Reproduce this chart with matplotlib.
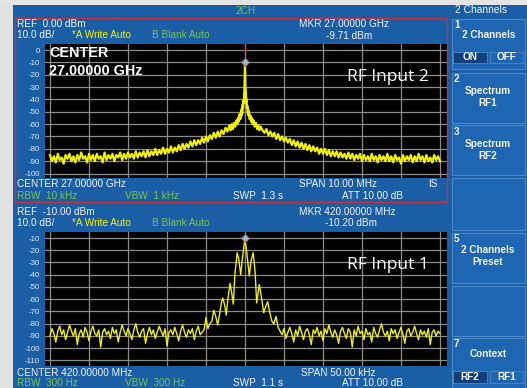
import numpy as np
import matplotlib
matplotlib.use("Agg")
import matplotlib.pyplot as plt
from matplotlib.patches import Rectangle

plt.rcParams['font.family'] = ['Liberation Sans', 'DejaVu Sans']

# ---------------- data ----------------
# RF Input 2 : center 27 GHz, span 10 MHz (offsets in MHz)
top_left_lvl = [-85,-90,-86,-91,-84,-89,-87,-92,-85,-88,-84,-90,-86,-91,-85,-89,-83,-88,-86,-91,
                -84,-89,-85,-90,-84,-88,-86,-91,-83,-89,-85,-88,-84,-90,-85,-87,-83,-89,-84,-88,
                -83,-87,-84,-88,-82,-87,-83,-86,-82,-87,-81,-86,-82,-85,-80,-85,-81,-84,-79,-84,
                -80,-83,-78,-83,-79,-82,-77,-81,-76,-80,-76,-79,-74,-78,-73,-77,-73,-76,-71,-75,
                -70,-74,-69,-72,-67,-71,-66,-70,-65,-68,-63,-66]
top_peak_f = [-0.40,-0.37,-0.34,-0.31,-0.28,-0.25,-0.22,-0.20,-0.18,-0.16,-0.14,-0.12,-0.10,-0.09,
              -0.08,-0.07,-0.06,-0.05,-0.04,-0.03,-0.025,-0.02,-0.015,-0.01,-0.005,0.0,
              0.005,0.01,0.015,0.02,0.025,0.03,0.04,0.05,0.06,0.07,0.08,0.09,0.10,0.12,0.14,
              0.16,0.18,0.20,0.22,0.25,0.28,0.31,0.34,0.37,0.40]
top_peak_lvl = [-61,-65,-60,-64,-59,-62,-57,-60,-55,-58,-52,-56,-49,-53,-47,-51,-44,-47,-41,-43,
                -36,-38,-31,-27,-18,-9.71,
                -19,-28,-30,-37,-35,-42,-40,-47,-45,-51,-48,-53,-50,-56,-53,-58,-55,-60,-57,-62,
                -59,-64,-61,-65,-62]
top_right_lvl = [-65,-67,-64,-69,-66,-70,-67,-72,-68,-73,-70,-74,-71,-75,-72,-77,-73,-78,-74,-79,
                 -75,-80,-76,-81,-77,-82,-78,-82,-79,-84,-80,-84,-80,-85,-81,-86,-82,-86,-82,-87,
                 -83,-87,-84,-88,-83,-88,-84,-89,-85,-88,-84,-90,-85,-89,-86,-90,-84,-89,-86,-91,
                 -85,-89,-86,-90,-84,-90,-86,-91,-85,-89,-87,-92,-85,-90,-86,-89,-85,-91,-86,-90,
                 -84,-89,-86,-91,-85,-90,-87,-91,-85,-89,-86,-90]

# RF Input 1 : center 420 MHz, span 50 kHz (offsets in kHz)
bot_left_lvl = [-90,-84,-88,-95,-86,-82,-89,-85,-93,-87,-81,-86,-90,-84,-97,-88,-85,-91,-83,-87,
                -94,-86,-82,-88,-90,-85,-99,-87,-84,-89,-86,-92,-83,-88,-85,-95,-87,-81,-86,-90,
                -84,-88,-93,-85,-80,-87,-91,-86,-84,-96,-88,-83,-89,-85,-92,-87,-82,-86,-90,-84,
                -98,-87,-85,-89,-83,-88,-94,-86,-81,-87,-91,-85,-88,-84,-93,-86,-82,-89,-87,-85]
bot_main_f = [-5.0,-4.75,-4.5,-4.25,-4.0,-3.75,-3.5,-3.25,-3.0,-2.85,-2.6,-2.4,-2.2,-1.92,-1.7,
              -1.5,-1.3,-1.0,-0.8,-0.55,-0.3,0.0,0.3,0.55,0.8,1.05,1.3,1.5,1.65,1.83,2.05,2.4,
              2.65,2.91,3.15,3.45,3.7,3.97,4.25]
bot_main_lvl = [-75,-84,-80,-78,-69,-74,-81,-72,-62,-59,-65,-73,-60,-47,-55,-64,-40,-22,-27,-40,
                -25,-10.2,-26,-41,-28,-22,-38,-63,-56,-48,-56,-71,-66,-62,-70,-78,-80,-74,-83]
bot_right_lvl = [-86,-89,-84,-92,-87,-83,-88,-95,-85,-90,-82,-87,-93,-86,-84,-89,-97,-85,-88,-83,
                 -90,-86,-94,-84,-88,-81,-87,-91,-85,-89,-96,-86,-83,-88,-92,-84,-87,-99,-85,-90,
                 -82,-88,-86,-93,-84,-89,-87,-95,-83,-88,-91,-85,-80,-87,-90,-86,-94,-84,-88,-85,
                 -92,-87,-83,-89,-96,-86,-84,-90,-87,-82,-88,-93,-85,-89,-86,-91,-84,-97,-87,-85,
                 -90,-86,-88]

top_yticks = [0, -10, -20, -30, -40, -50, -60, -70, -80, -90, -100]
bot_yticks = [-10, -20, -30, -40, -50, -60, -70, -80, -90, -100, -110]
top_marker = (0.0, -9.71)
bot_marker = (0.0, -10.20)

# ---------------- style ----------------
W, H = 527, 388
BLUE = '#1a5ea6'
BOXF = '#1f66b2'
BOXE = '#4a88c8'
DARKB = '#123f7a'
YEL = '#f4f400'
GRN = '#7cc452'
WHT = '#f2f4f8'
RED = '#c8323c'
GRID = '#8c8c8c'
TRACE = '#f0f000'

fig = plt.figure(figsize=(W / 100, H / 100), dpi=100)
fig.patch.set_facecolor(BLUE)


def rect(x, y, w, h, **kw):
    r = Rectangle((x / W, 1 - (y + h) / H), w / W, h / H, transform=fig.transFigure, **kw)
    fig.add_artist(r)
    return r


def txt(x, y, s, color=WHT, size=7.2, ha='left', weight='normal', **kw):
    fig.text(x / W, 1 - y / H, s, color=color, fontsize=size, ha=ha, va='center',
             fontweight=weight, **kw)


# outside margins (photo background)
rect(0, 0, 13, H, facecolor='#e2e2e2', edgecolor='none', zorder=0)
rect(0, 0, W, 5, facecolor='#e4e4e4', edgecolor='none', zorder=0)

# 2CH title
txt(245, 11, '2CH', color=GRN, size=7.2, ha='center')
# red active-channel frame
rect(14.5, 17.5, 432, 184, facecolor='none', edgecolor=RED, linewidth=1.0, zorder=3)


def make_axes(y0, yticks, ylim, xlim, xgrid):
    ax = fig.add_axes([45 / W, 1 - (y0 + 134) / H, 402 / W, 134 / H])
    ax.set_facecolor('black')
    ax.set_xlim(*xlim)
    ax.set_ylim(*ylim)
    ax.set_xticks(xgrid)
    ax.set_yticks(yticks)
    ax.set_yticklabels([str(v) for v in yticks])
    ax.tick_params(axis='x', length=0, labelbottom=False)
    ax.tick_params(axis='y', length=0, pad=3.6, labelsize=5.6, labelcolor='#e6ecf4')
    ax.grid(True, color=GRID, linewidth=0.9)
    ax.set_axisbelow(True)
    for s in ax.spines.values():
        s.set_visible(False)
    return ax


# ---- top channel (RF Input 2) ----
ax1 = make_axes(44, top_yticks, (-103.6, 4.86), (-5.128, 5.179), np.arange(-5, 6, 1))
tf = np.concatenate([np.linspace(-5.0, -0.45, len(top_left_lvl)), top_peak_f,
                     np.linspace(0.45, 5.0, len(top_right_lvl))])
tl = np.concatenate([top_left_lvl, top_peak_lvl, top_right_lvl])
ax1.plot(tf, tl, color=TRACE, linewidth=1.6, zorder=3)
ax1.plot(*top_marker, marker='D', ms=4.5, mfc='#78c8e0', mec='#d8505a', mew=0.8, zorder=4)
ax1.text(0, 1.6, '1', color='#e03030', fontsize=6.5, ha='center', va='center', zorder=4)
ax1.text(0.01, 0.93, 'CENTER', transform=ax1.transAxes, color='white', fontsize=10.4,
         fontweight='bold', ha='left', va='center')
ax1.text(0.01, 0.80, '27.00000 GHz', transform=ax1.transAxes, color='white', fontsize=10.4,
         fontweight='bold', ha='left', va='center')
ax1.text(0.955, 0.755, 'RF Input 2', transform=ax1.transAxes, color='white', fontsize=12.5,
         ha='right', va='center', family=['Open Sans', 'DejaVu Sans'])

txt(17, 24, 'REF  0.00 dBm')
txt(17, 35, '10.0 dB/')
txt(72, 35, '*A Write Auto', color=YEL)
txt(152, 35, 'B Blank Auto', color=GRN)
txt(344, 24, 'MKR 27.00000 GHz', ha='center')
txt(349, 36, '-9.71 dBm', ha='center')
txt(17, 184, 'CENTER 27.00000 GHz')
txt(338, 184, 'SPAN 10.00 MHz', ha='center')
txt(428, 184, 'IS')
txt(17, 196, 'RBW  10 kHz', color=GRN)
txt(125, 196, 'VBW  1 kHz', color=GRN)
txt(233, 196, 'SWP  1.3 s')
txt(342, 196, 'ATT 10.00 dB')

# ---- bottom channel (RF Input 1) ----
ax2 = make_axes(232, bot_yticks, (-114.5, -5.1), (-25.64, 25.9), np.arange(-25, 26, 5))
bf = np.concatenate([np.linspace(-25.0, -5.25, len(bot_left_lvl)), bot_main_f,
                     np.linspace(4.5, 25.0, len(bot_right_lvl))])
bl = np.concatenate([bot_left_lvl, bot_main_lvl, bot_right_lvl])
ax2.plot(bf, bl, color=TRACE, linewidth=1.0, zorder=3)
ax2.plot(*bot_marker, marker='D', ms=4.5, mfc='#78c8e0', mec='#d8505a', mew=0.8, zorder=4)
ax2.text(0.955, 0.755, 'RF Input 1', transform=ax2.transAxes, color='white', fontsize=12.5,
         ha='right', va='center', family=['Open Sans', 'DejaVu Sans'])

txt(17, 212, 'REF  -10.00 dBm')
txt(17, 223, '10.0 dB/')
txt(72, 223, '*A Write Auto', color=YEL)
txt(152, 223, 'B Blank Auto', color=GRN)
txt(347, 212, 'MKR 420.00000 MHz', ha='center')
txt(351, 223, '-10.20 dBm', ha='center')
txt(17, 373, 'CENTER 420.00000 MHz')
txt(338, 373, 'SPAN 50.00 kHz', ha='center')
txt(17, 383, 'RBW  300 Hz', color=GRN)
txt(125, 383, 'VBW  300 Hz', color=GRN)
txt(233, 383, 'SWP  1.1 s')
txt(342, 383, 'ATT 10.00 dB')

# ---- softkey panel ----
txt(481, 10, '2 Channels', ha='center', size=7.4)
boxes = [(18, 68), (72, 122), (125, 175), (177, 229), (232, 282), (285, 335), (337, 387)]
for (y0, y1) in boxes:
    rect(451.5, y0 + 0.5, 73, y1 - y0, facecolor=BOXF, edgecolor=BOXE, linewidth=0.8, zorder=1)

SK = 7.2
txt(454, 25, '1', weight='bold', size=SK)
txt(489, 35, '2 Channels', ha='center', weight='bold', size=SK)
rect(453, 52, 34, 11, facecolor=DARKB, edgecolor=BOXE, linewidth=0.6, zorder=2)
rect(490, 52, 33, 11, facecolor=BOXF, edgecolor=BOXE, linewidth=0.6, zorder=2)
txt(470, 57.5, 'ON', ha='center', weight='bold', size=SK)
txt(506.5, 57.5, 'OFF', ha='center', weight='bold', size=SK)

txt(454, 79, '2', weight='bold', size=SK)
txt(488, 91, 'Spectrum', ha='center', weight='bold', size=SK)
txt(488, 103, 'RF1', ha='center', weight='bold', size=SK)

txt(454, 132, '3', weight='bold', size=SK)
txt(488, 144, 'Spectrum', ha='center', weight='bold', size=SK)
txt(488, 156, 'RF2', ha='center', weight='bold', size=SK)

txt(454, 239, '5', weight='bold', size=SK)
txt(488, 250, '2 Channels', ha='center', weight='bold', size=SK)
txt(488, 262, 'Preset', ha='center', weight='bold', size=SK)

txt(454, 344, '7', weight='bold', size=SK)
txt(488, 354, 'Context', ha='center', weight='bold', size=SK)
rect(453, 371, 34, 12, facecolor=DARKB, edgecolor=BOXE, linewidth=0.6, zorder=2)
rect(490, 371, 33, 12, facecolor=BOXF, edgecolor=BOXE, linewidth=0.6, zorder=2)
txt(470, 377, 'RF2', ha='center', weight='bold', size=SK)
txt(506.5, 377, 'RF1', ha='center', weight='bold', size=SK)

fig.savefig('out.png', dpi=100, facecolor=fig.get_facecolor())
